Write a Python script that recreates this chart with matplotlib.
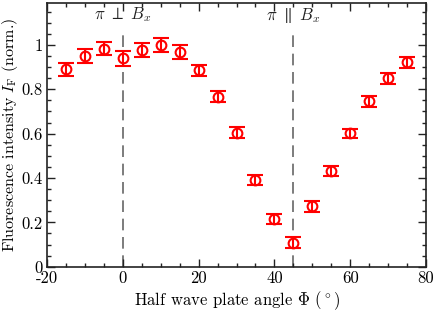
import matplotlib
matplotlib.use("Agg")
import matplotlib.pyplot as plt
import matplotlib.ticker as ticker

plt.rcParams['font.family'] = 'serif'
plt.rcParams['font.serif'] = ['cmr10']
plt.rcParams['mathtext.fontset'] = 'cm'
plt.rcParams['axes.unicode_minus'] = False
plt.rcParams['axes.formatter.use_mathtext'] = False

# half wave plate angle (deg) and normalized fluorescence
angle = [-15, -10, -5, 0, 5, 10, 15, 20, 25, 30, 35, 40, 45, 50, 55, 60, 65, 70, 75]
intensity = [0.89, 0.95, 0.984, 0.939, 0.979, 1.0, 0.968, 0.886, 0.766, 0.605,
             0.39, 0.215, 0.108, 0.273, 0.432, 0.601, 0.746, 0.849, 0.921]
err = [0.03, 0.03, 0.03, 0.032, 0.032, 0.03, 0.03, 0.025, 0.025, 0.025,
       0.022, 0.022, 0.025, 0.025, 0.022, 0.022, 0.025, 0.025, 0.025]

marks = [0, 45]
mark_labels = [r'$\pi\ \perp\ B_x$', r'$\pi\ \parallel\ B_x$']

fig = plt.figure(figsize=(4.36, 3.12), dpi=100)
ax = fig.add_axes([0.108, 0.145, 0.869, 0.846])

for xm, lab in zip(marks, mark_labels):
    ax.plot([xm, xm], [0, 1.07], color='#666666', linewidth=1.2,
            dashes=(7, 4), zorder=1)
    ax.text(xm, 1.135, lab, ha='center', va='center', fontsize=12, color='#222222')

ax.errorbar(angle, intensity, yerr=err, fmt='o', color='red', markerfacecolor='none',
            markersize=7, markeredgewidth=1.5, elinewidth=1.5, capsize=5.5,
            capthick=1.5, zorder=3)

ax.set_xlim(-20, 80)
ax.set_ylim(0, 1.19)
ax.xaxis.set_major_locator(ticker.MultipleLocator(20))
ax.xaxis.set_minor_locator(ticker.MultipleLocator(5))
ax.yaxis.set_major_locator(ticker.FixedLocator([0, 0.2, 0.4, 0.6, 0.8, 1]))
ax.yaxis.set_minor_locator(ticker.MultipleLocator(0.05))
ax.yaxis.set_major_formatter(ticker.FuncFormatter(lambda v, _: f'{v:g}'))
ax.tick_params(which='both', direction='in', top=True, right=True, labelsize=12,
               color='#222222', width=1.0)
ax.tick_params(which='major', length=6, pad=3)
ax.tick_params(which='minor', length=3)
for s in ax.spines.values():
    s.set_linewidth(1.2)
    s.set_color('#222222')

ax.set_xlabel(r'Half wave plate angle $\Phi$ ($^\circ$)', fontsize=12, labelpad=2)
ax.set_ylabel(r'Fluorescence intensity $I_\mathrm{F}$ (norm.)', fontsize=11.5, labelpad=1)

fig.savefig('out.png', dpi=100)
